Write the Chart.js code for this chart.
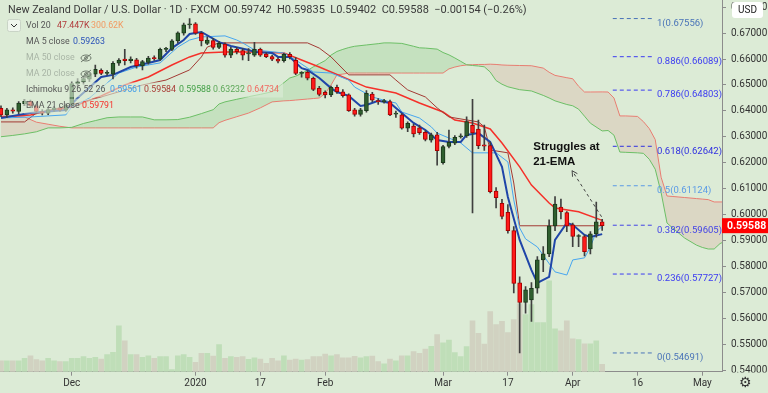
<!DOCTYPE html>
<html>
<head>
<meta charset="utf-8">
<script src="https://cdn.jsdelivr.net/npm/chart.js@4.4.1/dist/chart.umd.min.js"></script>
<style>
  html, body { margin: 0; padding: 0; background: #dcebd6; }
  #wrap { position: relative; width: 768px; height: 393px; }
</style>
</head>
<body>
<div id="wrap"><canvas id="chart" width="768" height="393"></canvas></div>
<script>
// NZD/USD daily, bar 0 = 14 Nov 2019, bar 102 = 8 Apr 2020
const opens  = [0.6410,0.6385,0.6404,0.6398,0.6428,0.6437,0.6420,0.6398,0.6392,0.6405,0.6412,0.6403,0.6422,0.6505,0.6512,0.6522,0.6542,0.6556,0.6545,0.6542,
                0.6584,0.6600,0.6594,0.6597,0.6573,0.6587,0.6605,0.6599,0.6637,0.6637,0.6670,0.6699,0.6731,0.6735,0.6699,0.6660,0.6671,0.6645,0.6657,0.6615,
                0.6637,0.6632,0.6620,0.6615,0.6637,0.6619,0.6609,0.6599,0.6594,0.6618,0.6595,0.6545,0.6549,0.6526,0.6487,0.6472,0.6462,0.6491,0.6474,0.6462,
                0.6404,0.6387,0.6401,0.6465,0.6440,0.6436,0.6436,0.6388,0.6385,0.6334,0.6342,0.6335,0.6318,0.6288,0.6308,0.6201,0.6264,0.6276,0.6300,0.6304,
                0.6345,0.6330,0.6270,0.6267,0.6092,0.6045,0.6010,0.5940,0.5739,0.5664,0.5673,0.5718,0.5827,0.5850,0.5958,0.6030,0.6009,0.5962,0.5917,0.5917,
                0.5869,0.5927,0.5974];
const highs  = [0.6420,0.6410,0.6412,0.6436,0.6445,0.6442,0.6425,0.6405,0.6410,0.6418,0.6416,0.6428,0.6512,0.6525,0.6530,0.6548,0.6577,0.6562,0.6555,0.6590,
                0.6602,0.6637,0.6608,0.6603,0.6595,0.6610,0.6612,0.6642,0.6645,0.6675,0.6705,0.6738,0.6756,0.6740,0.6705,0.6685,0.6680,0.6668,0.6662,0.6645,
                0.6645,0.6640,0.6640,0.6664,0.6642,0.6625,0.6615,0.6605,0.6622,0.6625,0.6605,0.6552,0.6555,0.6530,0.6495,0.6478,0.6496,0.6500,0.6482,0.6466,
                0.6410,0.6410,0.6479,0.6472,0.6448,0.6445,0.6442,0.6400,0.6390,0.6358,0.6350,0.6346,0.6325,0.6315,0.6318,0.6268,0.6327,0.6305,0.6312,0.6378,
                0.6445,0.6365,0.6346,0.6280,0.6105,0.6060,0.6040,0.5955,0.5762,0.5724,0.5740,0.5840,0.5878,0.5981,0.6071,0.6061,0.6013,0.5969,0.5925,0.5923,
                0.5936,0.6050,0.59835];
const lows   = [0.6378,0.6375,0.6392,0.6390,0.6420,0.6415,0.6392,0.6385,0.6386,0.6398,0.6398,0.6398,0.6418,0.6495,0.6503,0.6515,0.6532,0.6540,0.6538,0.6523,
                0.6575,0.6577,0.6585,0.6565,0.6558,0.6580,0.6595,0.6595,0.6628,0.6632,0.6662,0.6692,0.6718,0.6695,0.6650,0.6655,0.6638,0.6640,0.6607,0.6605,
                0.6620,0.6596,0.6594,0.6610,0.6610,0.6605,0.6594,0.6585,0.6588,0.6600,0.6540,0.6530,0.6520,0.6478,0.6458,0.6450,0.6455,0.6468,0.6453,0.6398,
                0.6380,0.6380,0.6395,0.6435,0.6425,0.6430,0.6382,0.6375,0.6330,0.6320,0.6300,0.6310,0.6285,0.6280,0.6192,0.6195,0.6258,0.6270,0.6295,0.6298,
                0.6008,0.6255,0.6248,0.6085,0.6027,0.5985,0.5930,0.5700,0.54691,0.5622,0.5590,0.5699,0.5782,0.5840,0.5940,0.5985,0.5936,0.5878,0.5878,0.5842,
                0.5850,0.5915,0.59402];
const closes = [0.6385,0.6404,0.6399,0.6430,0.6437,0.6420,0.6398,0.6392,0.6405,0.6412,0.6403,0.6422,0.6505,0.6512,0.6525,0.6540,0.6560,0.6545,0.6548,0.6583,
                0.6596,0.6594,0.6600,0.6574,0.6590,0.6604,0.6601,0.6637,0.6639,0.6670,0.6701,0.6731,0.6733,0.6699,0.6670,0.6673,0.6645,0.6660,0.6615,0.6638,
                0.6628,0.6615,0.6622,0.6637,0.6615,0.6609,0.6599,0.6592,0.6618,0.6609,0.6545,0.6547,0.6526,0.6483,0.6464,0.6462,0.6491,0.6474,0.6459,0.6401,
                0.6387,0.6404,0.6468,0.6442,0.6436,0.6440,0.6385,0.6392,0.6334,0.6353,0.6312,0.6317,0.6291,0.6308,0.6247,0.6263,0.6279,0.6299,0.6304,0.6359,
                0.6316,0.6267,0.6265,0.6090,0.6067,0.5994,0.5940,0.5737,0.5664,0.5712,0.5718,0.5827,0.5850,0.5958,0.6042,0.6013,0.5958,0.5917,0.5919,0.5859,
                0.5927,0.5974,0.59588];
// volume in thousands
const volumes = [70,70,70,70,85,102,77,70,85,70,64,64,85,85,96,85,92,81,109,124,
                 294,198,109,109,92,102,85,96,96,13,102,109,92,60,117,117,100,173,85,96,
                 92,96,79,88,81,53,85,70,102,75,81,75,77,96,96,113,102,109,88,88,
                 98,88,96,100,64,51,81,70,102,102,128,117,145,162,237,184,203,122,96,160,
                 326,245,177,384,301,322,250,333,435,365,429,314,314,582,275,262,326,211,205,179,
                 179,198,47.4];

// indicator lines: [bar, price]
const ma5 = [[0,0.6373],[3,0.6385],[5,0.6392],[11,0.6404],[13,0.6450],[17,0.6531],[19,0.6539],[22,0.6569],[25,0.6585],[27,0.6596],
             [29,0.6642],[31,0.6673],[32,0.6696],[33,0.6700],[34,0.6704],[37,0.6665],[39,0.6650],[42,0.6635],[43,0.6627],[46,0.6623],
             [47,0.6608],[49,0.6608],[51,0.6565],[52,0.6558],[54,0.6527],[56,0.6488],[57,0.6473],[59,0.6458],[61,0.6419],[62,0.6423],
             [64,0.6439],[66,0.6431],[68,0.6392],[70,0.6354],[72,0.6327],[74,0.6288],[76,0.6281],[78,0.6281],[79,0.6308],[81,0.6315],
             [83,0.6281],[85,0.6185],[86,0.6069],[88,0.5904],[90,0.5788],[91,0.5739],[93,0.5762],[94,0.5904],[96,0.5969],[97,0.5962],
             [99,0.5923],[100,0.5915],[102,0.59263]];
const tenkan = [[0,0.6373],[5,0.6377],[11,0.6385],[12,0.6415],[15,0.6450],[20,0.6546],[23,0.6569],[27,0.6585],[30,0.6646],[32,0.6673],
                [34,0.6685],[38,0.6689],[40,0.6673],[41,0.6662],[43,0.6635],[48,0.6623],[50,0.6596],[53,0.6550],[56,0.6546],[59,0.6519],
                [60,0.6492],[63,0.6454],[66,0.6435],[67,0.6431],[68,0.6396],[71,0.6373],[73,0.6339],[74,0.6315],[78,0.6277],[80,0.6239],
                [84,0.6239],[86,0.6204],[87,0.6058],[88,0.5950],[89,0.5908],[91,0.5877],[94,0.5781],[96,0.5769],[97,0.5827],[99,0.5835],
                [100,0.5877],[101,0.5935],[102,0.59561]];
const kijun = [[0,0.6358],[4,0.6358],[6,0.6392],[10,0.6412],[17,0.6454],[24,0.6500],[28,0.6519],[32,0.6558],[34,0.6608],[35,0.6646],
               [37,0.6662],[52,0.6662],[54,0.6642],[56,0.6608],[59,0.6539],[66,0.6539],[67,0.6519],[69,0.6481],[72,0.6454],[74,0.6412],
               [76,0.6377],[81,0.6358],[82,0.6339],[83,0.6250],[86,0.6239],[87,0.6123],[88,0.59584],[102,0.59584]];
const ema21 = [[0,0.6377],[5,0.6385],[7,0.6396],[12,0.6415],[17,0.6458],[21,0.6500],[25,0.6531],[29,0.6577],[32,0.6608],[34,0.6623],
               [38,0.6627],[43,0.6627],[48,0.6623],[51,0.6596],[54,0.6569],[58,0.6531],[62,0.6492],[67,0.6469],[71,0.6431],[75,0.6396],
               [77,0.6365],[80,0.6354],[83,0.6331],[85,0.6277],[88,0.6185],[90,0.6115],[93,0.6046],[94,0.6027],[98,0.6012],[102,0.59791]];
const spanBars = [0,2,4,6,8,10,12,14,16,18,20,22,24,26,28,30,32,34,36,37,38,40,42,44,46,48,49,50,52,53,54,55,56,57,58,59,60,62,64,65,66,68,70,71,72,
                  74,75,76,77,78,79,80,81,82,83,84,85,86,88,90,92,93,94,96,97,98,99,100,102,103,104,105,106,108,109,110,111,112,113,114,116,118,119,120,121,122,123];
const spanA = [0.6301,0.6306,0.6312,0.6320,0.6335,0.6335,0.6337,0.6352,0.6363,0.6374,0.6377,0.6377,0.6377,0.6366,0.6366,0.6367,0.6376,0.6390,0.6405,0.6427,
               0.6435,0.6445,0.6455,0.6464,0.6474,0.6509,0.6527,0.6534,0.6556,0.6570,0.6582,0.6594,0.6615,0.6629,0.6637,0.6644,0.6649,0.6654,0.6659,0.6662,
               0.6662,0.6660,0.6649,0.6643,0.6642,0.6638,0.6625,0.6616,0.6604,0.6591,0.6578,0.6575,0.6573,0.6570,0.6550,0.6517,0.6503,0.6493,0.6482,0.6477,
               0.6460,0.6450,0.6439,0.6425,0.6420,0.6407,0.6380,0.6353,0.63232,0.6325,0.6307,0.6242,0.6241,0.6239,0.6237,0.6214,0.6176,0.6086,0.5969,0.5949,
               0.5911,0.5884,0.5875,0.5869,0.5869,0.5890,0.5900];
const spanB = [0.6381,0.6379,0.6377,0.6357,0.6349,0.6341,0.6335,0.6335,0.6335,0.6335,0.6335,0.6335,0.6335,0.6335,0.6335,0.6335,0.6335,0.6335,0.6335,0.6355,
               0.6364,0.6378,0.6392,0.6412,0.6435,0.6439,0.6440,0.6442,0.6446,0.6448,0.6450,0.6467,0.6500,0.6539,0.6542,0.6546,0.6546,0.6546,0.6546,0.6546,
               0.6546,0.6546,0.6546,0.6546,0.6546,0.6546,0.6546,0.6562,0.6569,0.6574,0.6577,0.6578,0.6579,0.6579,0.6580,0.6579,0.6577,0.6576,0.6575,0.6574,
               0.6565,0.6549,0.6537,0.6528,0.6524,0.6495,0.6473,0.6473,0.64734,0.6473,0.6450,0.6381,0.6381,0.6379,0.6359,0.6332,0.6290,0.6145,0.6073,0.6071,
               0.6067,0.6063,0.6061,0.6059,0.6050,0.6050,0.6050];

const fibLevels = [1, 0.886, 0.786, 0.618, 0.5, 0.382, 0.236, 0];
const fibPrices = [0.67556, 0.66089, 0.64803, 0.62642, 0.61124, 0.59605, 0.57727, 0.54691];
const fibColors = ['#4a74b8', '#3b3bf2', '#3b3bf2', '#2f2fe0', '#5b9be6', '#4343e6', '#3b3bf2', '#4a74b8'];

const xTickBars = [12, 33, 44, 55, 75, 86, 97, 108, 119];
const xTickLabels = ['Dec', '2020', '17', 'Feb', 'Mar', '17', 'Apr', '16', 'May'];
const yTicks = [0.54, 0.55, 0.56, 0.57, 0.58, 0.59, 0.60, 0.61, 0.62, 0.63, 0.64, 0.65, 0.66, 0.67, 0.68];

const BG = '#dcebd6';
const FONT = 'Roboto, "Noto Sans", sans-serif';
const UP = '#2f5f2f', DOWN = '#ff1a1a';

const isUp = opens.map((o, i) => closes[i] >= o);
const pts = arr => arr.map(([x, y]) => ({ x, y }));
const line = (label, data, color, width, order) => ({
    type: 'line', label, data, borderColor: color, borderWidth: width,
    pointRadius: 0, tension: 0, fill: false, order
});

const datasets = [
    {
        type: 'bar', label: 'body', order: 1,
        data: opens.map((o, i) => ({ x: i, y: [o, closes[i]] })),
        backgroundColor: isUp.map(u => u ? UP : DOWN),
        borderColor: isUp.map(u => u ? '#1b381b' : '#a80000'),
        borderWidth: 1, borderSkipped: false, barThickness: 4, minBarLength: 1, grouped: false
    },
    {
        type: 'bar', label: 'wick', order: 2,
        data: lows.map((l, i) => ({ x: i, y: [l, highs[i]] })),
        backgroundColor: '#3f3f3f', barThickness: 1, grouped: false
    },
    line('MA 5', pts(ma5), '#1f45a8', 2, 3),
    line('Tenkan', pts(tenkan), '#47a6f0', 1, 4),
    line('Kijun', pts(kijun), '#a33a34', 1, 5),
    line('EMA 21', pts(ema21), '#f5312a', 1.5, 6),
    ...fibPrices.map((p, k) => ({
        type: 'line', label: 'fib' + k, order: 7,
        data: [{ x: 103.8, y: p }, { x: 110.6, y: p }],
        borderColor: fibColors[k], borderWidth: 1, borderDash: [4, 3], pointRadius: 0, fill: false
    })),
    {
        type: 'line', label: 'Span A', order: 8,
        data: spanBars.map((b, k) => ({ x: b, y: spanA[k] })),
        borderColor: '#6cbf66', borderWidth: 1, pointRadius: 0, tension: 0,
        fill: { target: '+1', above: 'rgba(120,190,110,0.22)', below: 'rgba(220,145,134,0.22)' }
    },
    {
        type: 'line', label: 'Span B', order: 9,
        data: spanBars.map((b, k) => ({ x: b, y: spanB[k] })),
        borderColor: '#f07a72', borderWidth: 1, pointRadius: 0, tension: 0, fill: false
    },
    {
        type: 'bar', label: 'Volume', order: 10, yAxisID: 'vol',
        data: volumes.map((v, i) => ({ x: i, y: v })),
        backgroundColor: isUp.map(u => u ? '#bfdeb8' : '#d1d2c1'),
        barThickness: 5, grouped: false
    }
];

function txt(ctx, s, x, y, color, size, weight, align) {
    ctx.font = (weight || 'normal') + ' ' + size + 'px ' + FONT;
    ctx.fillStyle = color;
    ctx.textAlign = align || 'left';
    ctx.textBaseline = 'middle';
    ctx.fillText(s, x, y);
    return ctx.measureText(s).width;
}

// translucent strip behind a legend row, like the platform's legend pane
function rowBack(ctx, x0, x1, y) {
    ctx.fillStyle = 'rgba(220,235,214,0.62)';
    ctx.fillRect(x0, y - 7.5, x1 - x0, 15);
}

function eyeOff(ctx, cx, cy) {
    ctx.save();
    ctx.strokeStyle = '#6f7a6d';
    ctx.lineWidth = 1;
    ctx.beginPath();
    ctx.ellipse(cx, cy, 5, 3, 0, 0, Math.PI * 2);
    ctx.stroke();
    ctx.beginPath();
    ctx.arc(cx, cy, 1.4, 0, Math.PI * 2);
    ctx.stroke();
    ctx.beginPath();
    ctx.moveTo(cx - 5, cy + 4);
    ctx.lineTo(cx + 5, cy - 4);
    ctx.stroke();
    ctx.restore();
}

const overlay = {
    id: 'overlay',
    beforeDraw(chart) {
        const ctx = chart.ctx;
        ctx.save();
        ctx.fillStyle = BG;
        ctx.fillRect(0, 0, chart.width, chart.height);
        ctx.restore();
    },
    afterDraw(chart) {
        const { ctx, scales } = chart;
        const xs = scales.x, ys = scales.y;
        ctx.save();

        // hide the part of the lowest price label that falls below the time axis
        ctx.fillStyle = BG;
        ctx.fillRect(723, 372.5, 45, 21);

        // header
        txt(ctx, 'New Zealand Dollar / U.S. Dollar · 1D · FXCM', 8, 10, '#3a3a3a', 10.8);
        txt(ctx, 'O0.59742  H0.59835  L0.59402  C0.59588  −0.00154 (−0.26%)', 224, 10, '#3a3a3a', 11);

        // collapse button
        ctx.fillStyle = 'rgba(240,246,238,0.9)';
        ctx.strokeStyle = '#c9d4c6';
        ctx.beginPath();
        ctx.roundRect(7.5, 19.5, 13, 12, 2);
        ctx.fill();
        ctx.stroke();
        ctx.strokeStyle = '#333';
        ctx.beginPath();
        ctx.moveTo(11, 24); ctx.lineTo(14, 27); ctx.lineTo(17, 24);
        ctx.stroke();

        // legend rows
        const L = 26, S = 8.8;
        rowBack(ctx, 24, 124, 25.5);
        rowBack(ctx, 24, 106, 41.5);
        rowBack(ctx, 24, 94, 58);
        rowBack(ctx, 24, 94, 74);
        rowBack(ctx, 24, 283, 90);
        rowBack(ctx, 24, 115, 106);
        txt(ctx, 'Vol 20', L, 25.5, '#555', S);
        txt(ctx, '47.447K', 57, 25.5, '#b03a3a', S);
        txt(ctx, '300.62K', 91, 25.5, '#f29a62', S);
        txt(ctx, 'MA 5 close', L, 41.5, '#555', S);
        txt(ctx, '0.59263', 73, 41.5, '#2a52b8', S);
        txt(ctx, 'MA 50 close', L, 58, '#a9b5a6', S);
        eyeOff(ctx, 86, 58);
        txt(ctx, 'MA 20 close', L, 74, '#a9b5a6', S);
        eyeOff(ctx, 86, 74);
        txt(ctx, 'Ichimoku 9 26 52 26', L, 90, '#555', S);
        txt(ctx, '0.59561', 110, 90, '#3d9be9', S);
        txt(ctx, '0.59584', 144, 90, '#a83a34', S);
        txt(ctx, '0.59588', 179, 90, '#43a047', S);
        txt(ctx, '0.63232', 213, 90, '#5fa85a', S);
        txt(ctx, '0.64734', 247, 90, '#f06a62', S);
        txt(ctx, 'EMA 21 close', L, 106, '#555', S);
        txt(ctx, '0.59791', 82, 106, '#f5312a', S);

        // fibonacci labels
        fibPrices.forEach((p, k) => {
            txt(ctx, fibLevels[k] + '(' + p.toFixed(5) + ')', xs.getPixelForValue(111.3),
                ys.getPixelForValue(p) + 5, fibColors[k], 9.5);
        });

        // annotation
        ctx.font = 'bold 11.5px "Liberation Sans", Arial, sans-serif';
        ctx.fillStyle = '#111';
        ctx.textAlign = 'left';
        ctx.textBaseline = 'middle';
        const ax = xs.getPixelForValue(90.3);
        ctx.fillText('Struggles at', ax, ys.getPixelForValue(0.6262));
        ctx.fillText('21-EMA', ax, ys.getPixelForValue(0.6205));

        // dashed arrow
        const x1 = xs.getPixelForValue(101.9), y1 = ys.getPixelForValue(0.5993);
        const x2 = xs.getPixelForValue(96.9), y2 = ys.getPixelForValue(0.6170);
        ctx.strokeStyle = '#444';
        ctx.lineWidth = 1;
        ctx.setLineDash([3, 3]);
        ctx.beginPath();
        ctx.moveTo(x1, y1); ctx.lineTo(x2, y2);
        ctx.stroke();
        ctx.setLineDash([]);
        const ang = Math.atan2(y2 - y1, x2 - x1);
        ctx.beginPath();
        ctx.moveTo(x2 - 6 * Math.cos(ang - 0.5), y2 - 6 * Math.sin(ang - 0.5));
        ctx.lineTo(x2, y2);
        ctx.lineTo(x2 - 6 * Math.cos(ang + 0.5), y2 - 6 * Math.sin(ang + 0.5));
        ctx.stroke();

        // last price badge
        const last = closes[closes.length - 1];
        const py = ys.getPixelForValue(last);
        ctx.fillStyle = '#ff0000';
        ctx.fillRect(722, py - 7.5, 46, 15);
        txt(ctx, last.toFixed(5), 727, py + 0.5, '#fff', 10.5, 'bold');

        // currency badge
        ctx.fillStyle = '#fff';
        ctx.beginPath();
        ctx.roundRect(732, 2, 31, 16, 3);
        ctx.fill();
        txt(ctx, 'USD', 747.5, 10.5, '#222', 10, 'normal', 'center');

        // settings icon
        txt(ctx, '⚙', 745, 383, '#333', 14, 'normal', 'center');
        ctx.restore();
    }
};

new Chart(document.getElementById('chart'), {
    data: { datasets },
    options: {
        responsive: false,
        devicePixelRatio: 1,
        animation: false,
        events: [],
        layout: { padding: 0 },
        plugins: { legend: { display: false }, tooltip: { enabled: false } },
        scales: {
            x: {
                type: 'linear', min: -0.17, max: 122.33, offset: false,
                grid: { offset: false, drawOnChartArea: false, drawTicks: true, tickLength: 4, color: '#8c8c8c' },
                border: { display: true, color: '#8c8c8c' },
                ticks: {
                    autoSkip: false, maxRotation: 0, padding: 2, color: '#333',
                    font: { family: FONT, size: 10 },
                    callback: v => {
                        const k = xTickBars.indexOf(v);
                        return k >= 0 ? xTickLabels[k] : '';
                    }
                },
                afterBuildTicks: s => { s.ticks = xTickBars.map(v => ({ value: v })); },
                afterFit: s => { s.height = 21.3; s.paddingLeft = 0; s.paddingRight = 0; }
            },
            y: {
                type: 'linear', position: 'right', min: 0.5397, max: 0.6827,
                grid: { drawOnChartArea: false, drawTicks: true, tickLength: 4, color: '#8c8c8c' },
                border: { display: true, color: '#8c8c8c' },
                ticks: {
                    padding: 5, color: '#333', font: { family: FONT, size: 10 },
                    callback: v => v.toFixed(5)
                },
                afterBuildTicks: s => { s.ticks = yTicks.map(v => ({ value: v })); },
                afterFit: s => { s.width = 46; s.paddingTop = 0; s.paddingBottom = 0; }
            },
            vol: { type: 'linear', display: false, min: 0, max: 2379 }
        }
    },
    plugins: [overlay]
});
</script>
</body>
</html>
